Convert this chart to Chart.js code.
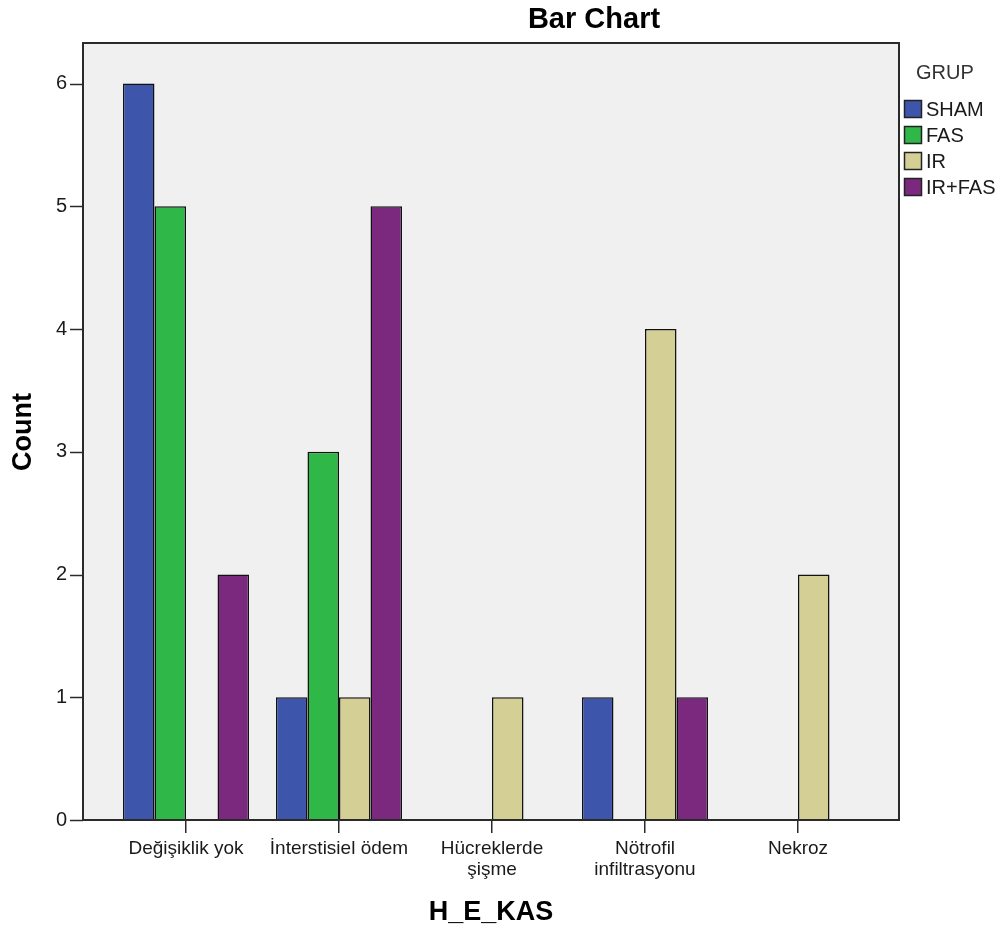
<!DOCTYPE html>
<html><head><meta charset="utf-8">
<script src="https://cdn.jsdelivr.net/npm/chart.js@4"></script>
<style>html,body{margin:0;padding:0;background:#fff}#wrap{width:1005px;height:938px}</style>
</head><body><div id="wrap"><canvas id="c" width="1005" height="938"></canvas></div>
<script>
const categories = ["Değişiklik yok", "İnterstisiel ödem", ["Hücreklerde", "şişme"], ["Nötrofil", "infiltrasyonu"], "Nekroz"];
const seriesNames = ["SHAM", "FAS", "IR", "IR+FAS"];
const sham = [6, 1, 0, 1, 0];
const fas = [5, 3, 0, 0, 0];
const ir = [0, 1, 1, 4, 2];
const irFas = [2, 5, 0, 1, 0];
const yTicks = [0, 1, 2, 3, 4, 5, 6];
const colors = ["#3d56ab", "#2fb748", "#d4cf95", "#7b287f"];

const FONT = "'Liberation Sans', Arial, sans-serif";
const FRAME_L = 83, FRAME_R = 899;

const bgPlugin = {
  id: 'bg',
  beforeDraw(chart) {
    const {ctx, chartArea: a} = chart;
    ctx.save();
    ctx.fillStyle = '#f0f0f0';
    ctx.fillRect(FRAME_L, a.top, FRAME_R - FRAME_L, a.bottom - a.top);
    ctx.restore();
  },
  afterDraw(chart) {
    const {ctx, chartArea: a} = chart;
    const ys = chart.scales.y;
    ctx.save();
    ctx.strokeStyle = '#2a2a2a';
    ctx.lineWidth = 2;
    ctx.strokeRect(FRAME_L, a.top, FRAME_R - FRAME_L, a.bottom - a.top);
    // y tick marks
    ctx.lineWidth = 1.5;
    yTicks.forEach(v => {
      const py = Math.round(ys.getPixelForValue(v)) + 0.5;
      ctx.beginPath();
      ctx.moveTo(FRAME_L - 13, py);
      ctx.lineTo(FRAME_L, py);
      ctx.stroke();
    });
    // titles
    ctx.fillStyle = '#000';
    ctx.textAlign = 'center';
    ctx.textBaseline = 'middle';
    ctx.font = "bold 29px " + FONT;
    ctx.fillText('Bar Chart', 594, 20);
    ctx.font = "bold 27px " + FONT;
    ctx.fillText('H_E_KAS', (FRAME_L + FRAME_R) / 2, 913);
    ctx.save();
    ctx.translate(24, 432);
    ctx.rotate(-Math.PI / 2);
    ctx.fillText('Count', 0, 0);
    ctx.restore();
    // legend
    ctx.textAlign = 'left';
    ctx.font = "20px " + FONT;
    ctx.fillStyle = '#333';
    ctx.fillText('GRUP', 916, 73);
    chart.data.datasets.forEach((ds, i) => {
      const y = 109 + i * 26;
      ctx.fillStyle = ds.backgroundColor;
      ctx.fillRect(904, y - 9, 18, 18);
      ctx.strokeStyle = '#222';
      ctx.lineWidth = 1.5;
      ctx.strokeRect(904.5, y - 8.5, 17, 17);
      ctx.fillStyle = '#1a1a1a';
      ctx.fillText(ds.label, 926, y + 1);
    });
    ctx.restore();
  }
};

const makeDs = (label, data, color) => ({
  label, data, backgroundColor: color, borderColor: '#111', borderWidth: 1.5,
  borderSkipped: 'bottom', categoryPercentage: 0.824, barPercentage: 1.0
});

new Chart(document.getElementById('c'), {
  type: 'bar',
  data: {
    labels: categories,
    datasets: [
      makeDs(seriesNames[0], sham, colors[0]),
      makeDs(seriesNames[1], fas, colors[1]),
      makeDs(seriesNames[2], ir, colors[2]),
      makeDs(seriesNames[3], irFas, colors[3])
    ]
  },
  options: {
    responsive: false,
    animation: false,
    layout: {padding: {left: 0, top: 43, right: 130.5, bottom: 0}},
    plugins: {legend: {display: false}, title: {display: false}, tooltip: {enabled: false}},
    scales: {
      x: {
        grid: {display: true, drawOnChartArea: false, drawTicks: true, tickLength: 13, color: '#2a2a2a', lineWidth: 1.5, offset: false},
        border: {display: false},
        ticks: {font: {family: FONT, size: 19, lineHeight: 1.1}, color: '#1a1a1a', padding: 5, maxRotation: 0, autoSkip: false},
        afterFit(scale) { scale.height = 118; scale.paddingLeft = 0; scale.paddingRight = 0; }
      },
      y: {
        min: 0, max: 6.33,
        grid: {display: false, drawTicks: false},
        border: {display: false},
        ticks: {stepSize: 1, font: {family: FONT, size: 20}, color: '#1a1a1a', padding: 42.5},
        afterBuildTicks(scale) { scale.ticks = yTicks.map(v => ({value: v})); },
        afterFit(scale) { scale.width = 109.5; scale.paddingTop = 0; scale.paddingBottom = 0; }
      }
    }
  },
  plugins: [bgPlugin]
});
</script></body></html>
